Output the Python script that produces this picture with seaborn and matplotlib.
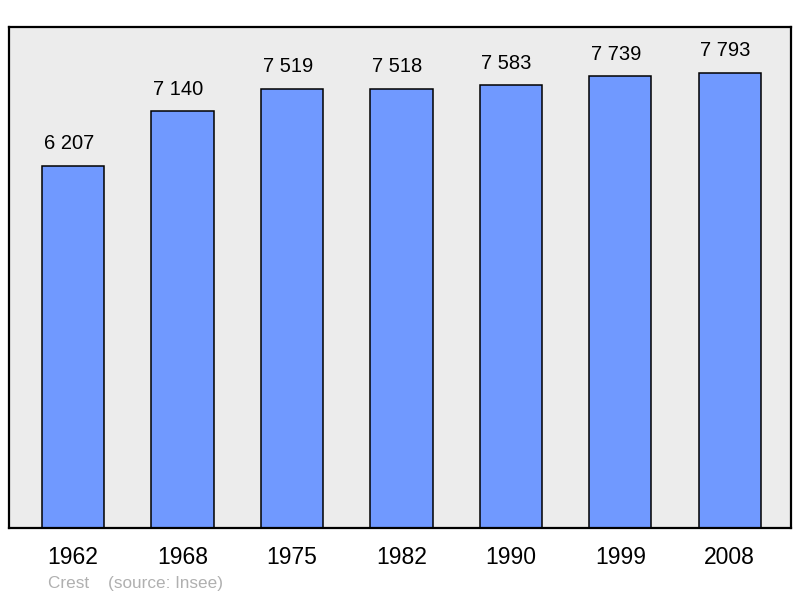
import matplotlib
matplotlib.use("Agg")
import matplotlib.pyplot as plt
import pandas as pd
import seaborn as sns

years = ["1962", "1968", "1975", "1982", "1990", "1999", "2008"]
population = [6207, 7140, 7519, 7518, 7583, 7739, 7793]

sns.set_style("white")
plt.rcParams["font.family"] = ["Liberation Sans", "DejaVu Sans"]

df = pd.DataFrame({"year": years, "pop": population})

fig = plt.figure(figsize=(8, 5.98), dpi=100)
ax = fig.add_axes([0.01125, 0.117, 0.9775, 0.838])
ax.set_facecolor("#ececec")

sns.barplot(data=df, x="year", y="pop", color="#7099ff", saturation=1,
            width=0.57, edgecolor="black", linewidth=1.1, ax=ax)

# value labels, nudged a bit left like the original
for i, v in enumerate(population):
    ax.annotate(f"{v:,}".replace(",", " "), xy=(i, v), xytext=(-3, 9),
                textcoords="offset points", ha="center", va="bottom",
                fontsize=14.5, color="black")

ax.set_xlim(-0.585, 6.56)
ax.set_ylim(0, 8580)
ax.set_xlabel("")
ax.set_ylabel("")
ax.set_yticks([])
ax.tick_params(axis="x", length=0, pad=13, labelsize=16.5, colors="black")
for s in ax.spines.values():
    s.set_visible(True)
    s.set_color("black")
    s.set_linewidth(1.6)

fig.text(0.06, 0.024, "Crest    (source: Insee)", fontsize=12.3, color="#b0b0b0",
         va="center", ha="left")

fig.savefig("out.png", dpi=100, facecolor="white")
